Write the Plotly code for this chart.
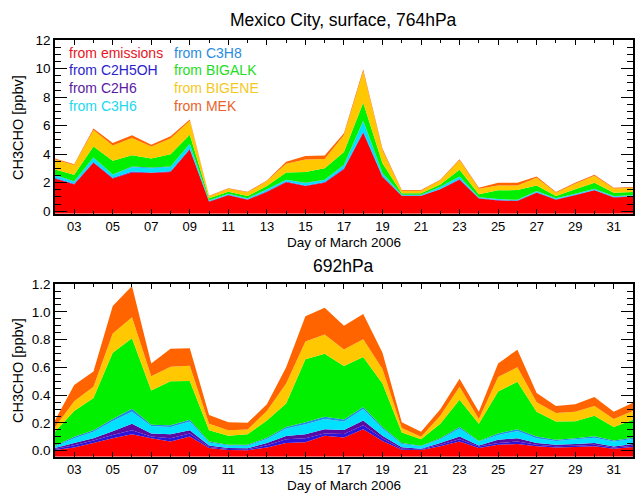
import numpy as np
import plotly.graph_objects as go

days = list(range(2, 33))
x_tick_vals = list(range(3, 32, 2))
x_tick_text = ["03", "05", "07", "09", "11", "13", "15", "17", "19", "21", "23", "25", "27", "29", "31"]

names = ["from emissions", "from C2H5OH", "from C2H6", "from C3H6",
         "from C3H8", "from BIGALK", "from BIGENE", "from MEK"]
colors = ["#FF0000", "#2A14DC", "#5A0AA0", "#00E1FF",
          "#1E8CE6", "#00F000", "#FFC800", "#FF6400"]
text_colors = ["#E8141E", "#2A1ECC", "#5A1AA0", "#22D8F0",
               "#2A8CE0", "#22DD22", "#F5C81E", "#E8642A"]

# ---- surface, 764 hPa (ppbv) ----
sfc_emis = [2.30, 1.87, 3.40, 2.30, 2.72, 2.67, 2.74, 4.32, 0.66, 1.12, 0.80, 1.35, 2.03, 1.76, 1.99, 2.95,
            5.50, 2.40, 1.07, 1.07, 1.53, 2.21, 0.89, 0.75, 0.71, 1.30, 0.80, 1.12, 1.46, 0.96, 1.03]
sfc_c2h5oh = [0.02, 0.02, 0.02, 0.02, 0.02, 0.02, 0.02, 0.02, 0.01, 0.01, 0.01, 0.01, 0.02, 0.02, 0.02, 0.02,
              0.03, 0.02, 0.01, 0.01, 0.01, 0.02, 0.01, 0.01, 0.01, 0.01, 0.01, 0.01, 0.01, 0.01, 0.01]
sfc_c2h6 = [0.03, 0.03, 0.03, 0.03, 0.04, 0.03, 0.04, 0.04, 0.02, 0.02, 0.02, 0.03, 0.03, 0.03, 0.03, 0.04,
            0.05, 0.03, 0.02, 0.02, 0.02, 0.03, 0.02, 0.02, 0.02, 0.02, 0.02, 0.02, 0.02, 0.02, 0.02]
sfc_c3h6 = [0.15, 0.15, 0.28, 0.20, 0.31, 0.30, 0.30, 0.31, 0.06, 0.06, 0.06, 0.11, 0.10, 0.15, 0.14, 0.20,
            0.72, 0.18, 0.03, 0.03, 0.12, 0.15, 0.04, 0.05, 0.04, 0.07, 0.06, 0.06, 0.06, 0.06, 0.04]
sfc_c3h8 = [0.03, 0.03, 0.04, 0.03, 0.04, 0.04, 0.03, 0.04, 0.02, 0.02, 0.02, 0.03, 0.03, 0.03, 0.03, 0.04,
            0.05, 0.04, 0.02, 0.02, 0.03, 0.03, 0.02, 0.02, 0.02, 0.02, 0.02, 0.02, 0.02, 0.02, 0.02]
sfc_bigalk = [0.40, 0.46, 0.77, 0.96, 0.80, 0.64, 0.87, 0.64, 0.14, 0.14, 0.16, 0.23, 0.51, 0.75, 0.80, 0.91,
              1.25, 0.69, 0.11, 0.11, 0.16, 0.46, 0.21, 0.61, 0.68, 0.38, 0.16, 0.30, 0.42, 0.23, 0.23]
sfc_bigene = [0.70, 0.68, 1.15, 1.07, 1.21, 0.84, 1.10, 0.97, 0.14, 0.20, 0.25, 0.35, 0.60, 0.89, 0.65, 1.18,
              2.20, 0.91, 0.17, 0.18, 0.30, 0.67, 0.38, 0.34, 0.33, 0.55, 0.23, 0.40, 0.50, 0.29, 0.29]
sfc_mek = [0.07, 0.06, 0.11, 0.18, 0.18, 0.12, 0.15, 0.10, 0.03, 0.04, 0.04, 0.05, 0.15, 0.25, 0.24, 0.12,
           0.15, 0.11, 0.05, 0.04, 0.04, 0.08, 0.07, 0.19, 0.18, 0.09, 0.05, 0.06, 0.07, 0.05, 0.05]

# ---- 692 hPa (ppbv) ----
p692_emis = [0.005, 0.024, 0.055, 0.090, 0.118, 0.090, 0.066, 0.102, 0.020, 0.006, 0.004, 0.024, 0.055, 0.062,
             0.108, 0.095, 0.155, 0.071, 0.008, 0.006, 0.032, 0.066, 0.020, 0.043, 0.048, 0.032, 0.024, 0.027,
             0.032, 0.015, 0.027]
p692_c2h5oh = [0.007, 0.016, 0.019, 0.023, 0.030, 0.012, 0.024, 0.023, 0.007, 0.007, 0.006, 0.016, 0.028, 0.028,
               0.017, 0.025, 0.028, 0.019, 0.007, 0.004, 0.011, 0.017, 0.010, 0.012, 0.018, 0.011, 0.008, 0.009,
               0.011, 0.009, 0.009]
p692_c2h6 = [0.008, 0.015, 0.016, 0.028, 0.046, 0.023, 0.028, 0.023, 0.011, 0.007, 0.008, 0.015, 0.023, 0.028,
             0.030, 0.030, 0.035, 0.018, 0.010, 0.005, 0.012, 0.019, 0.008, 0.024, 0.024, 0.012, 0.011, 0.012,
             0.012, 0.006, 0.012]
p692_c3h6 = [0.010, 0.035, 0.046, 0.073, 0.086, 0.053, 0.053, 0.062, 0.021, 0.018, 0.018, 0.030, 0.054, 0.072,
             0.074, 0.060, 0.082, 0.052, 0.023, 0.017, 0.028, 0.058, 0.028, 0.034, 0.053, 0.035, 0.028, 0.035,
             0.039, 0.036, 0.037]
p692_c3h8 = [0.006, 0.011, 0.012, 0.015, 0.023, 0.009, 0.012, 0.014, 0.007, 0.005, 0.007, 0.009, 0.011, 0.016,
             0.016, 0.015, 0.015, 0.011, 0.007, 0.004, 0.007, 0.011, 0.005, 0.012, 0.012, 0.012, 0.008, 0.007,
             0.010, 0.008, 0.009]
p692_bigalk = [0.100, 0.186, 0.232, 0.476, 0.507, 0.246, 0.318, 0.279, 0.082, 0.065, 0.075, 0.123, 0.170, 0.453,
               0.453, 0.385, 0.360, 0.313, 0.076, 0.047, 0.104, 0.197, 0.123, 0.301, 0.341, 0.178, 0.131, 0.123,
               0.148, 0.097, 0.130]
p692_bigene = [0.034, 0.070, 0.081, 0.140, 0.151, 0.103, 0.104, 0.109, 0.046, 0.040, 0.035, 0.070, 0.143, 0.128,
               0.140, 0.120, 0.128, 0.105, 0.033, 0.017, 0.058, 0.093, 0.035, 0.105, 0.105, 0.070, 0.061, 0.067,
               0.070, 0.058, 0.063]
p692_mek = [0.047, 0.116, 0.110, 0.197, 0.225, 0.093, 0.130, 0.127, 0.063, 0.058, 0.048, 0.047, 0.117, 0.181,
            0.192, 0.170, 0.181, 0.116, 0.042, 0.036, 0.047, 0.058, 0.051, 0.098, 0.127, 0.065, 0.051, 0.054,
            0.065, 0.051, 0.058]

sfc_layers = [sfc_emis, sfc_c2h5oh, sfc_c2h6, sfc_c3h6, sfc_c3h8, sfc_bigalk, sfc_bigene, sfc_mek]
p692_layers = [p692_emis, p692_c2h5oh, p692_c2h6, p692_c3h6, p692_c3h8, p692_bigalk, p692_bigene, p692_mek]

Y1_RANGE = [-0.19, 12.0]
Y2_RANGE = [-0.044, 1.2]

FONT = "Liberation Sans, Arial, Helvetica, sans-serif"
W, H = 635, 496
X_DOM = [55 / W, 634 / W]
Y1_DOM = [1 - 212 / H, 1 - 34 / H]
Y2_DOM = [1 - 461 / H, 1 - 284 / H]

fig = go.Figure()


def add_stack(layers, xa, ya, ymin):
    base = [ymin] * len(days)
    fig.add_trace(go.Scatter(x=days, y=base, mode="lines", line=dict(width=0, color="rgba(0,0,0,0)"),
                             showlegend=False, hoverinfo="skip", xaxis=xa, yaxis=ya))
    cum = np.zeros(len(days))
    for lay, nm, col in zip(layers, names, colors):
        cum = cum + np.array(lay)
        fig.add_trace(go.Scatter(x=days, y=cum.tolist(), mode="none", fill="tonexty", fillcolor=col,
                                 name=nm, showlegend=False, xaxis=xa, yaxis=ya))


add_stack(sfc_layers, "x", "y", Y1_RANGE[0])
add_stack(p692_layers, "x2", "y2", Y2_RANGE[0])

xcommon = dict(range=[2, 32], domain=X_DOM, showgrid=False, zeroline=False,
               showline=True, linecolor="black", linewidth=1.5, mirror="ticks",
               ticks="inside", ticklen=5, tickwidth=1, tickcolor="black",
               tickmode="array", tickvals=x_tick_vals, ticktext=x_tick_text,
               tickfont=dict(family=FONT, size=13, color="black"),
               minor=dict(ticks="inside", dtick=1, tick0=2, ticklen=3, tickcolor="black", showgrid=False))
ycommon = dict(showgrid=False, zeroline=False, showline=True, linecolor="black", linewidth=1.5,
               mirror="ticks", ticks="inside", ticklen=12, tickwidth=1, tickcolor="black",
               tickfont=dict(family=FONT, size=13.5, color="black"))

fig.update_layout(
    width=W, height=H,
    margin=dict(l=0, r=0, t=0, b=0),
    paper_bgcolor="white", plot_bgcolor="white",
    showlegend=False,
    xaxis=dict(anchor="y", **xcommon),
    xaxis2=dict(anchor="y2", **xcommon),
    yaxis=dict(anchor="x", domain=Y1_DOM, range=Y1_RANGE, tickmode="array",
               tickvals=[0, 2, 4, 6, 8, 10, 12], ticktext=["0", "2", "4", "6", "8", "10", "12"],
               minor=dict(ticks="inside", dtick=0.5, tick0=0, ticklen=6, tickcolor="black", showgrid=False),
               **ycommon),
    yaxis2=dict(anchor="x2", domain=Y2_DOM, range=Y2_RANGE, tickmode="array",
                tickvals=[0, 0.2, 0.4, 0.6, 0.8, 1.0, 1.2],
                ticktext=["0.0", "0.2", "0.4", "0.6", "0.8", "1.0", "1.2"],
                minor=dict(ticks="inside", dtick=0.05, tick0=0, ticklen=6, tickcolor="black", showgrid=False),
                **ycommon),
)

xc = (X_DOM[0] + X_DOM[1]) / 2
ann = []
ann.append(dict(text="Mexico City, surface, 764hPa", x=xc, y=1 - 13 / H, xref="paper", yref="paper",
                showarrow=False, xanchor="center", yanchor="middle",
                font=dict(family=FONT, size=17.5, color="black")))
ann.append(dict(text="692hPa", x=xc, y=1 - 265 / H, xref="paper", yref="paper",
                showarrow=False, xanchor="center", yanchor="middle",
                font=dict(family=FONT, size=17.5, color="black")))
for yy in (241, 490):
    ann.append(dict(text="Day of March 2006", x=xc, y=1 - yy / H, xref="paper", yref="paper",
                    showarrow=False, xanchor="center", yanchor="middle",
                    font=dict(family=FONT, size=13.5, color="black")))
for yy in (123, 372):
    ann.append(dict(text="CH3CHO [ppbv]", x=18 / W, y=1 - yy / H, xref="paper", yref="paper",
                    showarrow=False, xanchor="center", yanchor="middle", textangle=-90,
                    font=dict(family=FONT, size=14.5, color="black")))
# legend text (two columns, four rows)
col_x = [67, 172]
row_y = [47, 65, 83, 101]
for i, (nm, tc) in enumerate(zip(names, text_colors)):
    ann.append(dict(text=nm, x=col_x[i // 4] / W, y=1 - row_y[i % 4] / H, xref="paper", yref="paper",
                    showarrow=False, xanchor="left", yanchor="middle",
                    font=dict(family=FONT, size=14, color=tc)))
fig.update_layout(annotations=ann)

fig.write_html("out.html")
